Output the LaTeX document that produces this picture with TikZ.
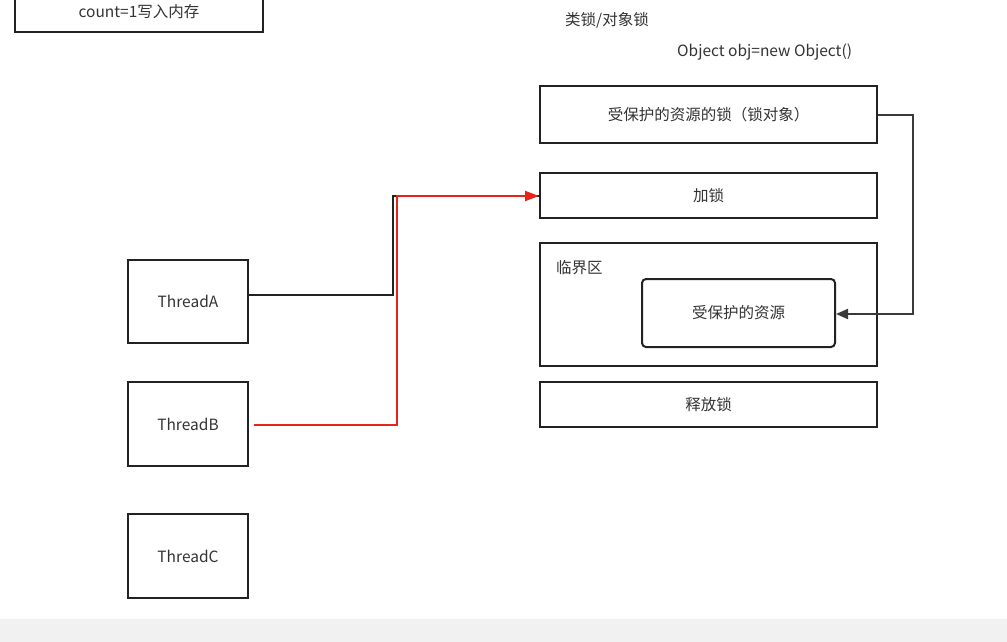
\documentclass[tikz,border=0pt]{standalone}
\usepackage{fontspec}
\setmainfont{Noto Sans CJK SC}
\usetikzlibrary{arrows.meta}
\definecolor{txt}{HTML}{333333}
\definecolor{edge}{HTML}{222222}
\definecolor{redline}{HTML}{E8231A}
\definecolor{grayline}{HTML}{3A3A3A}
\definecolor{strip}{HTML}{F1F1F1}
\begin{document}
\begin{tikzpicture}[x=1pt,y=-1pt,
  box/.style={draw=edge, line width=2pt, fill=white, inner sep=0pt, text=txt,
    font=\fontsize{15.5}{18}\selectfont},
  plain/.style={inner sep=0pt, text=txt, font=\fontsize{15.5}{18}\selectfont},
  conn/.style={line width=2pt}]
\useasboundingbox (0,0) rectangle (1007,642);
\fill[white] (0,0) rectangle (1007,642);
\fill[strip] (0,619) rectangle (1007,642);

\node[box, minimum width=248pt, minimum height=40pt] (mem) at (139,12) {count=1写入内存};

\node[plain, anchor=west] (kind) at (565,20) {类锁/对象锁};
\node[plain, anchor=west] (obj) at (677,52) {Object obj=new Object()};

\node[box, minimum width=337pt, minimum height=57pt] (lockobj) at (708.5,114.5) {受保护的资源的锁（锁对象）};
\node[box, minimum width=337pt, minimum height=45pt] (lock) at (708.5,195.5) {加锁};
\node[box, minimum width=337pt, minimum height=123pt] (crit) at (708.5,304.5) {};
\node[plain, anchor=west] (critlbl) at (556,268) {临界区};
\node[box, rounded corners=4pt, minimum width=193pt, minimum height=68pt] (res) at (738.5,313) {受保护的资源};
\node[box, minimum width=337pt, minimum height=45pt] (unlock) at (708.5,404.5) {释放锁};

\node[box, minimum width=120pt, minimum height=83pt] (ta) at (188,301.5) {ThreadA};
\node[box, minimum width=120pt, minimum height=84pt] (tb) at (188,424) {ThreadB};
\node[box, minimum width=120pt, minimum height=84pt] (tc) at (188,556) {ThreadC};

\coordinate (bend) at (393,196);
\draw[conn, edge] (ta.east |- 0,295) -- (393,295) -- (bend) -- (lock.west |- 0,196);
\draw[conn, redline, -{Triangle[length=14pt,width=10pt]}] (254,425) -- (397,425) -- (397,196) -- (lock.west |- 0,196);
\draw[conn, grayline, -{Triangle[length=12pt,width=10pt]}] (lockobj.east) -- (913,114.5) -- (913,314) -- (res.east |- 0,314);
\end{tikzpicture}
\end{document}
